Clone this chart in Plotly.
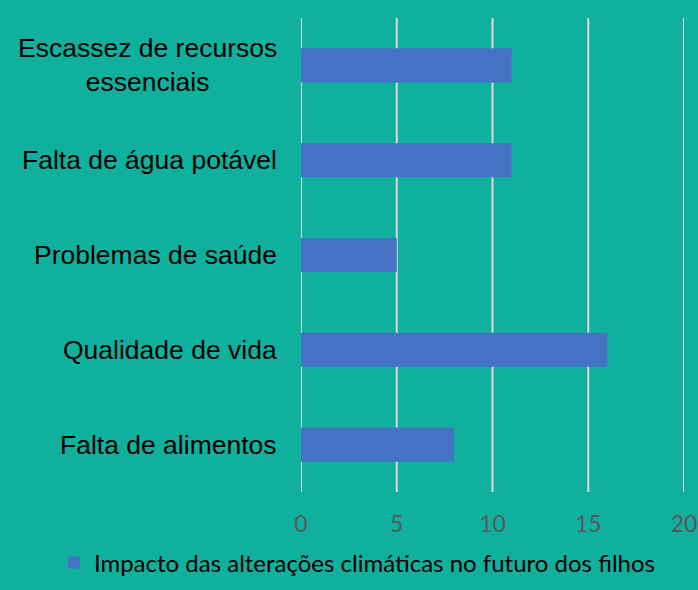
import plotly.graph_objects as go

categories = ["Falta de alimentos", "Qualidade de vida", "Problemas de saúde",
              "Falta de água potável", "Escassez de recursos<br>essenciais"]
values = [8, 16, 5, 11, 11]
series_name = "Impacto das alterações climáticas no futuro dos filhos"
x_ticks = [0, 5, 10, 15, 20]

bg = "#10B09E"
bar_color = "#4472C4"
grid_color = "#D9D9D9"

fig = go.Figure()
fig.add_trace(go.Bar(
    y=categories, x=values, orientation="h", name=series_name,
    marker=dict(color=bar_color, line=dict(width=0)),
    showlegend=True,
))

for t in x_ticks:
    fig.add_shape(type="line", xref="x", yref="paper", x0=t, x1=t, y0=0, y1=1,
                  line=dict(color=grid_color, width=2), layer="below")

for c in categories:
    fig.add_annotation(
        x=0, xref="paper", y=c, yref="y", text=c, showarrow=False,
        xanchor="right", xshift=-22, align="center",
        font=dict(family="Liberation Sans, Arial", size=26.5, color="#000000"),
    )

fig.update_layout(
    width=698, height=590,
    paper_bgcolor=bg, plot_bgcolor=bg,
    margin=dict(l=301, r=14, t=18, b=98),
    bargap=0.64,
    xaxis=dict(
        range=[0, 20], tickvals=x_ticks, showgrid=False,
        zeroline=False, showline=False, automargin=False,
        ticks="", ticklabelstandoff=16,
        tickfont=dict(family="Lato", size=23, color="#595959"),
    ),
    yaxis=dict(showticklabels=False, showgrid=False, zeroline=False,
               automargin=False,
               categoryorder="array", categoryarray=categories),
    legend=dict(
        orientation="h", xref="container", yref="container",
        x=0.512, xanchor="center", y=0.008, yanchor="bottom",
        font=dict(family="Lato", size=24, color="#000000"),
        bgcolor="rgba(0,0,0,0)",
    ),
)

fig.write_html("out.html", config={"displayModeBar": False},
               post_script="document.body.style.margin='0';")
